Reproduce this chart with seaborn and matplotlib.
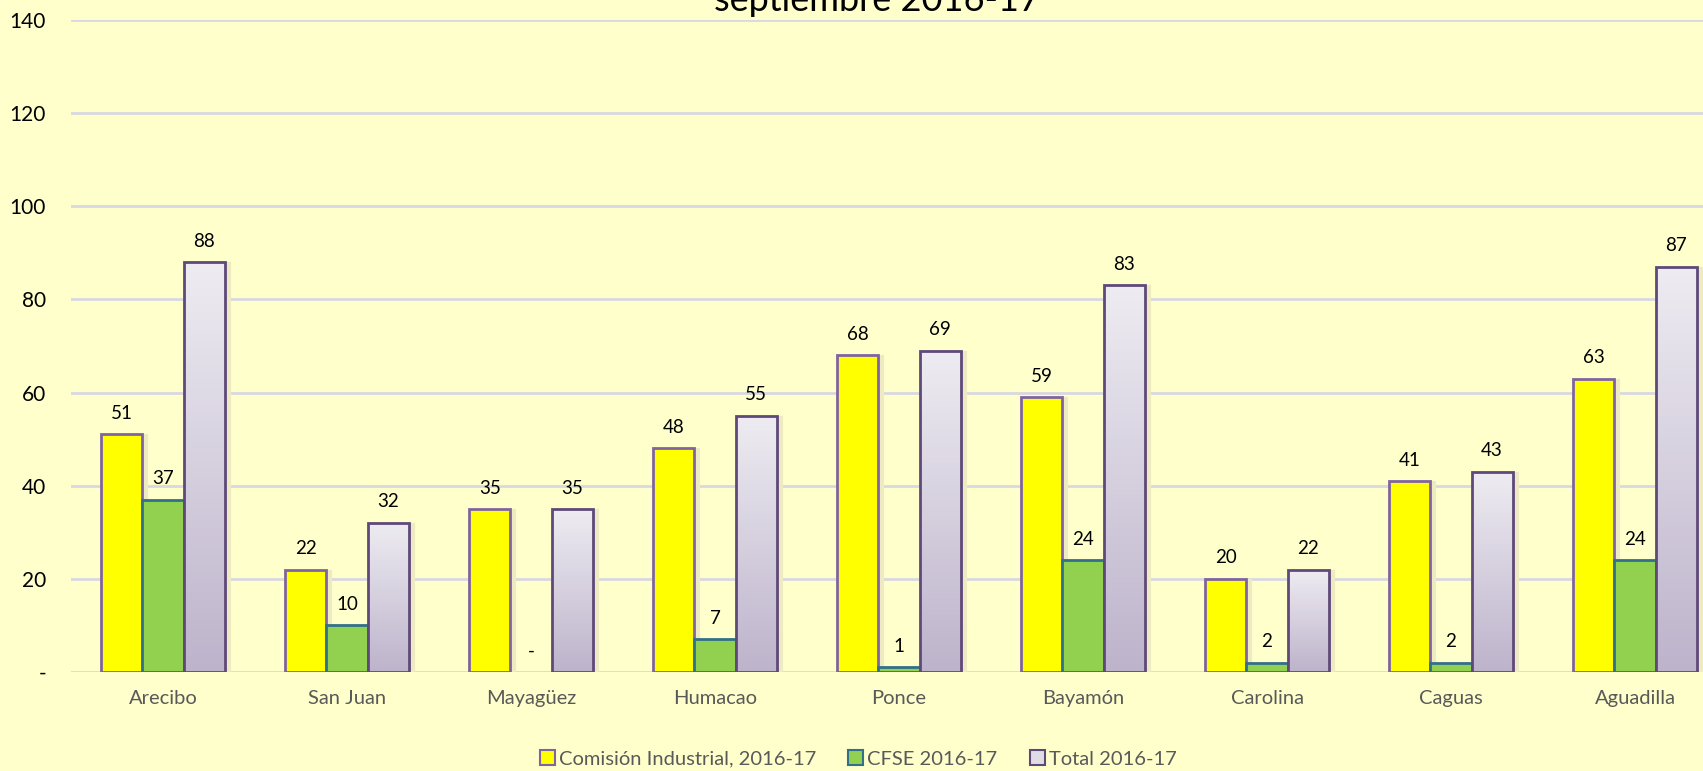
import numpy as np
import pandas as pd
import matplotlib
matplotlib.use("Agg")
import matplotlib.pyplot as plt
import matplotlib.transforms as mtransforms
from matplotlib.patches import Rectangle, Patch
from matplotlib.colors import LinearSegmentedColormap
import seaborn as sns

regions = ["Arecibo", "San Juan", "Mayagüez", "Humacao", "Ponce", "Bayamón", "Carolina", "Caguas", "Aguadilla"]
comision = [51, 22, 35, 48, 68, 59, 20, 41, 63]
cfse = [37, 10, 0, 7, 1, 24, 2, 2, 24]
total = [88, 32, 35, 55, 69, 83, 22, 43, 87]
series = ["Comisión Industrial, 2016-17", "CFSE 2016-17", "Total 2016-17"]
yticks = [0, 20, 40, 60, 80, 100, 120, 140]
ytick_labels = ["-", "20", "40", "60", "80", "100", "120", "140"]
title = "septiembre 2016-17"

df = pd.DataFrame({
    "region": regions * 3,
    "serie": [series[0]] * 9 + [series[1]] * 9 + [series[2]] * 9,
    "valor": comision + cfse + total,
})

sns.set_theme(style="white")
plt.rcParams["font.family"] = ["Lato", "DejaVu Sans"]

W, H = 1703, 771
fig = plt.figure(figsize=(W / 100, H / 100), dpi=100)
bg = "#FFFFCC"
fig.patch.set_facecolor(bg)
ax = fig.add_axes([71 / W, (H - 672) / H, 1656 / W, 652 / H])
ax.set_facecolor(bg)

fills = ["#FFFF00", "#92D050", "#E0DCE6"]
edges = ["#8064A2", "#31708A", "#5F497A"]

sns.barplot(data=df, x="region", y="valor", hue="serie", hue_order=series,
            order=regions, palette=fills, width=0.67, ax=ax, legend=False,
            saturation=1, zorder=3)

ax.set_ylim(0, 140)
ax.set_xlim(-0.5, 8.5)
ax.set_yticks(yticks)
ax.set_yticklabels(ytick_labels, fontsize=15, color="black")
ax.yaxis.grid(True, color="#D8D8E2", lw=2, zorder=0)
ax.set_axisbelow(True)
for s in ax.spines.values():
    s.set_visible(False)
ax.tick_params(axis="both", length=0)
ax.tick_params(axis="y", pad=18)
ax.tick_params(axis="x", pad=13)
for lbl in ax.get_xticklabels():
    lbl.set_color("#595959")
    lbl.set_fontsize(14.5)
ax.set_xlabel("")
ax.set_ylabel("")

grad = np.linspace(0, 1, 256).reshape(-1, 1)
cmap = LinearSegmentedColormap.from_list("g", ["#BDB3CB", "#EEECF2"])

shadow_off = mtransforms.ScaledTranslation(4 / 100, -2 / 100, fig.dpi_scale_trans)
for k, cont in enumerate(ax.containers):
    for bar, val in zip(cont, [comision, cfse, total][k]):
        bar.set_edgecolor(edges[k])
        x0, w, h = bar.get_x(), bar.get_width(), bar.get_height()
        bar.set_linewidth(2 if h > 0 else 0)
        if h > 0:
            sh = Rectangle((x0, 0), w, h, facecolor="#E8E4B5", edgecolor="#EEEAC2",
                           lw=3, zorder=2, transform=ax.transData + shadow_off)
            ax.add_patch(sh)
        if k == 2:
            im = ax.imshow(grad, extent=[x0, x0 + w, 0, h], origin="lower",
                           cmap=cmap, aspect="auto", zorder=3.5)
            im.set_clip_path(bar)
            bar.set_facecolor("none")
            bar.set_zorder(4)
        label = "-" if val == 0 else str(val)
        ax.annotate(label, (x0 + w / 2, h), xytext=(0, 9), textcoords="offset points",
                    ha="center", va="bottom", fontsize=13.5, color="black", zorder=5)
ax.set_xlim(-0.5, 8.5)
ax.set_ylim(0, 140)

fig.text(877 / W, 1 - 11 / H, title, ha="center", va="baseline", fontsize=26, color="black")

handles = [Patch(facecolor=fills[i], edgecolor=edges[i], lw=1.5) for i in range(3)]
leg = fig.legend(handles, series, loc="center", bbox_to_anchor=(858 / W, 1 - 759 / H),
                 ncol=3, frameon=False, fontsize=14.5, handlelength=0.75, handleheight=0.75,
                 handletextpad=0.2, columnspacing=1.6)
for t in leg.get_texts():
    t.set_color("#595959")

fig.savefig("out.png", dpi=100, facecolor=bg)
